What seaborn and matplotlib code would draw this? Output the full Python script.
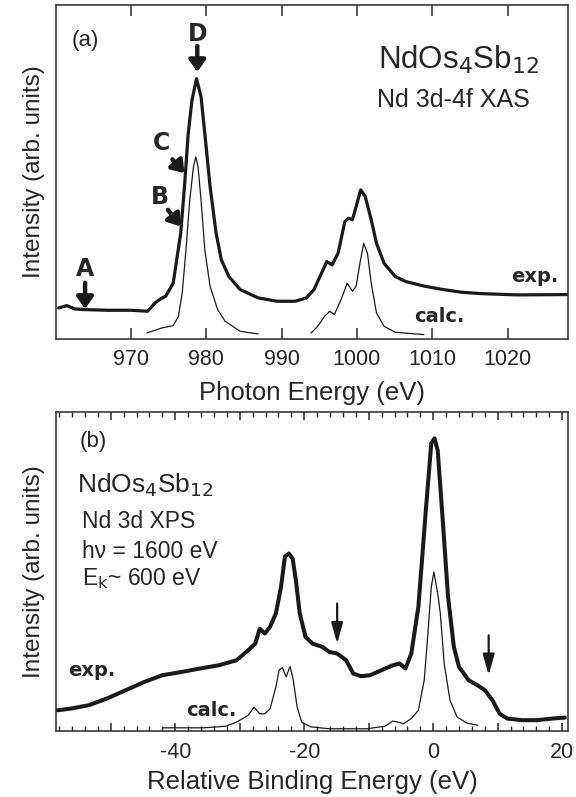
import matplotlib
matplotlib.use("Agg")
import matplotlib.pyplot as plt
import seaborn as sns
from matplotlib.ticker import MultipleLocator, FixedLocator

# ---------------- data: panel (a) XAS ----------------
xas_exp_x = [960.4, 961.5, 962.5, 963.8, 967.0, 970.0, 972.2, 973.2, 973.9, 974.6,
             975.6, 976.6, 977.1, 977.6, 978.1, 978.7, 979.3, 979.8, 980.5, 981.3,
             982.0, 983.0, 984.5, 986.9, 989.4, 991.8, 993.3, 994.3, 995.3, 996.0,
             996.7, 997.5, 998.4, 998.9, 999.4, 999.9, 1000.5, 1001.1, 1001.9, 1002.6,
             1003.6, 1005.1, 1006.5, 1009.0, 1011.5, 1013.9, 1016.4, 1021.3, 1028.0]
xas_exp_y = [0.093, 0.100, 0.090, 0.088, 0.086, 0.086, 0.083, 0.108, 0.120, 0.128,
             0.167, 0.317, 0.457, 0.616, 0.716, 0.780, 0.726, 0.616, 0.457, 0.317,
             0.237, 0.187, 0.148, 0.123, 0.113, 0.113, 0.123, 0.148, 0.197, 0.232,
             0.222, 0.257, 0.352, 0.362, 0.357, 0.397, 0.447, 0.427, 0.357, 0.287,
             0.227, 0.187, 0.172, 0.158, 0.148, 0.140, 0.136, 0.132, 0.133]

xas_calc1_x = [972.1, 973.2, 974.1, 975.6, 976.3, 976.8, 977.3, 977.8, 978.3, 978.6,
               978.9, 979.3, 979.8, 980.5, 981.5, 982.5, 984.5, 986.9]
xas_calc1_y = [0.018, 0.026, 0.033, 0.040, 0.068, 0.138, 0.267, 0.417, 0.516, 0.546,
               0.516, 0.417, 0.267, 0.158, 0.088, 0.053, 0.023, 0.015]

xas_calc2_x = [993.9, 994.8, 995.7, 996.4, 997.0, 997.9, 998.7, 999.4, 999.9, 1000.4,
               1000.9, 1001.4, 1001.9, 1002.6, 1003.6, 1005.1, 1008.9]
xas_calc2_y = [0.018, 0.038, 0.068, 0.083, 0.073, 0.118, 0.167, 0.143, 0.158, 0.227,
               0.287, 0.257, 0.167, 0.078, 0.038, 0.020, 0.013]

xas_ticks = [970, 980, 990, 1000, 1010, 1020]

# ---------------- data: panel (b) XPS ----------------
xps_exp_x = [-58.3, -56.3, -53.4, -50.6, -47.7, -44.8, -42.0, -39.1, -36.2, -33.3,
             -30.5, -28.7, -27.6, -26.9, -26.1, -25.3, -24.4, -23.6, -23.0, -22.4,
             -21.8, -21.3, -20.7, -19.8, -18.7, -17.2, -16.1, -14.9, -13.5, -12.4,
             -11.2, -9.8, -8.0, -6.3, -5.2, -4.3, -3.4, -2.3, -1.1, -0.3,
             0.2, 0.7, 1.4, 2.3, 3.2, 4.0, 5.5, 6.9, 8.0, 9.2,
             10.3, 11.5, 13.8, 16.1, 18.4, 20.4]
xps_exp_y = [0.065, 0.070, 0.081, 0.102, 0.128, 0.154, 0.175, 0.185, 0.196, 0.206,
             0.222, 0.253, 0.274, 0.321, 0.306, 0.327, 0.369, 0.452, 0.547, 0.557,
             0.541, 0.473, 0.369, 0.295, 0.274, 0.264, 0.248, 0.243, 0.222, 0.180,
             0.172, 0.175, 0.191, 0.206, 0.212, 0.196, 0.243, 0.390, 0.704, 0.903,
             0.918, 0.880, 0.683, 0.421, 0.264, 0.201, 0.159, 0.143, 0.128, 0.096,
             0.054, 0.039, 0.034, 0.034, 0.039, 0.042]

xps_calc_x = [-41.9, -35.6, -32.2, -30.5, -28.7, -27.8, -26.9, -26.1, -25.3, -24.4,
              -23.9, -23.4, -22.8, -22.2, -21.7, -21.1, -20.4, -19.0, -16.1, -10.3,
              -7.5, -6.3, -5.5, -4.6, -3.4, -2.3, -1.4, -0.9, -0.3, 0.1,
              0.7, 1.1, 1.7, 2.6, 3.7, 5.2, 6.9]
xps_calc_y = [0.010, 0.010, 0.015, 0.028, 0.049, 0.075, 0.054, 0.054, 0.070, 0.138,
              0.191, 0.199, 0.170, 0.203, 0.159, 0.075, 0.028, 0.013, 0.007, 0.007,
              0.015, 0.031, 0.028, 0.023, 0.039, 0.065, 0.159, 0.285, 0.452, 0.499,
              0.431, 0.369, 0.212, 0.096, 0.044, 0.025, 0.018]

xps_ticks = [-40, -20, 0, 20]

# ---------------- styling ----------------
frame_c = '#2a2a2a'
sns.set_theme(style="ticks")
plt.rcParams['font.family'] = ['Liberation Sans', 'DejaVu Sans']

fig = plt.figure(figsize=(5.76, 7.97), dpi=100)
axA = fig.add_axes([0.0967, 0.5747, 0.889, 0.4187])
axB = fig.add_axes([0.0972, 0.0828, 0.8889, 0.3999])

EXP_LW = 2.3
CALC_LW = 0.9
bold_font = ['DejaVu Sans']

# panel (a)
sns.lineplot(x=xas_exp_x, y=xas_exp_y, ax=axA, color='k', lw=EXP_LW, sort=False, estimator=None)
sns.lineplot(x=xas_calc1_x, y=xas_calc1_y, ax=axA, color='k', lw=CALC_LW, sort=False, estimator=None)
sns.lineplot(x=xas_calc2_x, y=xas_calc2_y, ax=axA, color='k', lw=CALC_LW, sort=False, estimator=None)
axA.set_xlim(960, 1028)
axA.set_ylim(0, 1)
axA.xaxis.set_major_locator(FixedLocator(xas_ticks))
axA.set_xticklabels([str(t) for t in xas_ticks])
axA.set_yticks([])
axA.tick_params(axis='x', which='major', direction='in', top=True, bottom=True,
                length=8, width=1.1, color=frame_c, labelsize=15.5, pad=7)
axA.set_xlabel('Photon Energy (eV)', fontsize=18.5, labelpad=8)
axA.set_ylabel('Intensity (arb. units)', fontsize=17.5, labelpad=8)

axA.text(0.058, 0.895, '(a)', transform=axA.transAxes, fontsize=16, ha='center', va='center')
axA.text(0.63, 0.835, r'NdOs$_4$Sb$_{12}$', transform=axA.transAxes, fontsize=22.5, ha='left', va='center')
axA.text(0.628, 0.716, 'Nd 3d-4f XAS', transform=axA.transAxes, fontsize=18, ha='left', va='center')
axA.text(0.936, 0.187, 'exp.', transform=axA.transAxes, fontsize=14, ha='center', va='center',
         fontweight='bold', family=bold_font)
axA.text(0.749, 0.068, 'calc.', transform=axA.transAxes, fontsize=14, ha='center', va='center',
         fontweight='bold', family=bold_font)

arrow_a = dict(arrowstyle='-|>,head_width=0.35,head_length=0.5', lw=3.2, color='k',
               shrinkA=0, shrinkB=0, mutation_scale=14)
for lab, lx, ly, tail, tip in [
        ('D', 978.9, 0.915, (978.8, 0.878), (978.8, 0.800)),
        ('C', 974.1, 0.586, (975.5, 0.538), (977.1, 0.497)),
        ('B', 973.8, 0.425, (974.9, 0.387), (976.6, 0.337)),
        ('A', 963.9, 0.209, (963.9, 0.168), (963.9, 0.090))]:
    axA.text(lx, ly, lab, fontsize=17, fontweight='bold', family=bold_font, ha='center', va='center')
    axA.annotate('', xy=tip, xytext=tail, arrowprops=arrow_a)

# panel (b)
sns.lineplot(x=xps_exp_x, y=xps_exp_y, ax=axB, color='k', lw=EXP_LW + 0.6, sort=False, estimator=None)
sns.lineplot(x=xps_calc_x, y=xps_calc_y, ax=axB, color='k', lw=CALC_LW, sort=False, estimator=None)
axB.set_xlim(-58.5, 20.9)
axB.set_ylim(0, 1)
axB.xaxis.set_major_locator(MultipleLocator(10))
axB.xaxis.set_minor_locator(MultipleLocator(2))
axB.xaxis.set_major_formatter(plt.FuncFormatter(
    lambda v, p: f'{int(round(v))}' if int(round(v)) in xps_ticks else ''))
axB.set_yticks([])
axB.tick_params(axis='x', which='major', direction='in', top=True, bottom=True,
                length=6, width=1.1, color=frame_c, labelsize=15.5, pad=8)
axB.tick_params(axis='x', which='minor', direction='in', top=True, bottom=True,
                length=3.5, width=1.0, color=frame_c)
axB.set_xlabel('Relative Binding Energy (eV)', fontsize=18.5, labelpad=5)
axB.set_ylabel('Intensity (arb. units)', fontsize=17.5, labelpad=8)

axB.text(0.072, 0.908, '(b)', transform=axB.transAxes, fontsize=16, ha='center', va='center')
axB.text(0.042, 0.772, r'NdOs$_4$Sb$_{12}$', transform=axB.transAxes, fontsize=19, ha='left', va='center')
axB.text(0.051, 0.657, 'Nd 3d XPS', transform=axB.transAxes, fontsize=16.5, ha='left', va='center')
axB.text(0.051, 0.562, 'h\u03bd = 1600 eV', transform=axB.transAxes, fontsize=16.5, ha='left', va='center')
axB.text(0.051, 0.479, r'E$_\mathrm{k}$~ 600 eV', transform=axB.transAxes, fontsize=16.5, ha='left', va='center')
axB.text(0.069, 0.190, 'exp.', transform=axB.transAxes, fontsize=14, ha='center', va='center',
         fontweight='bold', family=bold_font)
axB.text(0.303, 0.065, 'calc.', transform=axB.transAxes, fontsize=14, ha='center', va='center',
         fontweight='bold', family=bold_font)

arrow_b = dict(arrowstyle='-|>,head_width=0.25,head_length=0.9', lw=1.6, color='k',
               shrinkA=0, shrinkB=0, mutation_scale=14)
for x0, y0, y1 in [(-14.9, 0.400, 0.274), (8.6, 0.300, 0.175)]:
    axB.annotate('', xy=(x0, y1), xytext=(x0, y0), arrowprops=arrow_b)

for ax in (axA, axB):
    for s in ax.spines.values():
        s.set_color(frame_c)
        s.set_linewidth(1.1)

fig.savefig('out.png', dpi=100)
